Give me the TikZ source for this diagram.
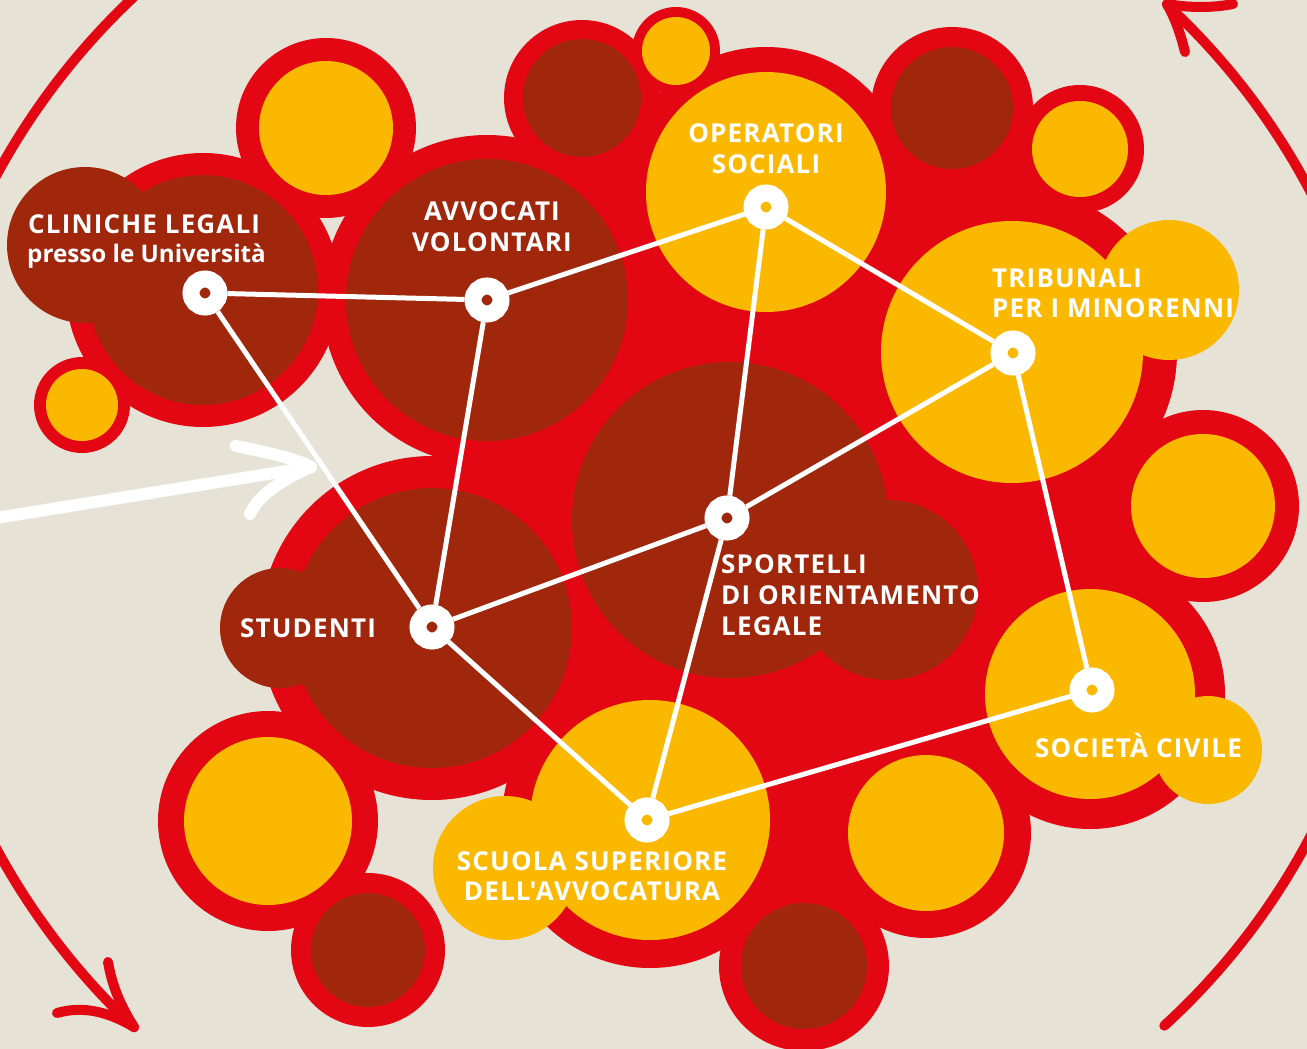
\documentclass[tikz,border=0pt]{standalone}
\usepackage{fontspec}
\newfontfamily\labfont[Ligatures=TeXOff,LetterSpace=4.5]{Open Sans}
\newfontfamily\subfont[Ligatures=TeXOff]{Open Sans}
\definecolor{bgc}{HTML}{E7E2D6}
\definecolor{redc}{HTML}{E30613}
\definecolor{brownc}{HTML}{A0260C}
\definecolor{yelc}{HTML}{FBB800}
\begin{document}
\begin{tikzpicture}[x=1pt,y=-1pt,
  lbl/.style={text=white, font=\labfont\bfseries\fontsize{26}{30}\selectfont, inner sep=0pt},
  sublbl/.style={text=white, font=\subfont\bfseries\fontsize{24.2}{30}\selectfont, inner sep=0pt},
  hub/.style={circle, draw=white, line width=17pt, minimum size=28pt, inner sep=0pt, outer sep=8.5pt},
  conn/.style={white, line width=5pt},
  redarc/.style={redc, line width=10pt, line cap=round},
  whitearrow/.style={white, line width=12pt, line cap=round}]
\useasboundingbox (0,0) rectangle (1307,1049);
\begin{scope}
\clip (0,0) rectangle (1307,1049);
\fill[bgc] (0,0) rectangle (1307,1049);
% red arcs
\draw[redarc] (618,512) ++(205:707) arc[start angle=205, end angle=232, radius=707];
\draw[redarc] (618,512) ++(155:707) arc[start angle=155, end angle=133.2, radius=707];
\draw[redarc] (108,962) .. controls (112,985) and (120,1005) .. (134,1027);
\draw[redarc] (57,1013) .. controls (85,1005) and (110,1013) .. (134,1027);
\draw[redarc] (697,514) ++(-22:693) arc[start angle=-22, end angle=-47.3, radius=693];
\draw[redarc] (1167,4) .. controls (1176,20) and (1181,36) .. (1185,52);
\draw[redarc] (1167,4) .. controls (1190,8) and (1212,8) .. (1233,4);
\draw[redarc] (697,514) ++(22:693) arc[start angle=22, end angle=47.6, radius=693];
% white arrow
\draw[whitearrow] (-10,519) -- (311,467);
\draw[whitearrow] (236,446) .. controls (265,452) and (295,458) .. (311,467);
\draw[whitearrow] (311,467) .. controls (285,478) and (258,495) .. (250,514);
% red blob
\fill[redc] (487,300) -- (582,98) -- (766,192) -- (952,108) -- (1080,149) -- (1012,352)
  -- (1203,506) -- (1090,694) -- (926,833) -- (804,966) -- (650,820) -- (432,628) -- cycle;
\fill[redc] (326,128) circle[radius=90];
\fill[redc] (203,290) circle[radius=137];
\fill[redc] (82,405) circle[radius=48];
\fill[redc] (487,300) circle[radius=165];
\fill[redc] (582,98) circle[radius=78];
\fill[redc] (676,51) circle[radius=44];
\fill[redc] (766,192) circle[radius=145];
\fill[redc] (952,108) circle[radius=81];
\fill[redc] (1080,149) circle[radius=64];
\fill[redc] (1012,352) circle[radius=165];
\fill[redc] (1203,506) circle[radius=96];
\fill[redc] (730,520) circle[radius=185];
\fill[redc] (1090,694) circle[radius=135];
\fill[redc] (926,833) circle[radius=105];
\fill[redc] (804,966) circle[radius=85];
\fill[redc] (650,820) circle[radius=148];
\fill[redc] (432,628) circle[radius=172];
\fill[redc] (268,821) circle[radius=110];
\fill[redc] (368,950) circle[radius=77];
% brown circles
\fill[brownc] (85,245) circle[radius=78];
\fill[brownc] (203,290) circle[radius=115];
\fill[brownc] (487,300) circle[radius=141];
\fill[brownc] (582,98) circle[radius=59];
\fill[brownc] (952,108) circle[radius=61];
\fill[brownc] (730,520) circle[radius=158];
\fill[brownc] (888,590) circle[radius=90];
\fill[brownc] (432,628) circle[radius=140];
\fill[brownc] (280,628) circle[radius=60];
\fill[brownc] (804,966) circle[radius=63];
\fill[brownc] (368,950) circle[radius=57];
% yellow circles
\fill[yelc] (326,128) circle[radius=67];
\fill[yelc] (82,405) circle[radius=36];
\fill[yelc] (676,51) circle[radius=34];
\fill[yelc] (766,192) circle[radius=120];
\fill[yelc] (1080,149) circle[radius=48];
\fill[yelc] (1012,352) circle[radius=131];
\fill[yelc] (1169,290) circle[radius=70];
\fill[yelc] (1203,506) circle[radius=72];
\fill[yelc] (1090,694) circle[radius=105];
\fill[yelc] (1208,750) circle[radius=54];
\fill[yelc] (926,833) circle[radius=78];
\fill[yelc] (650,820) circle[radius=120];
\fill[yelc] (505,868) circle[radius=72];
\fill[yelc] (268,821) circle[radius=84];
\end{scope}
% hubs
\node[hub] (cl) at (205,293) {};
\node[hub] (av) at (487,300) {};
\node[hub] (op) at (766,207) {};
\node[hub] (tr) at (1013,353) {};
\node[hub] (sp) at (727,518) {};
\node[hub] (st) at (432,627) {};
\node[hub] (sc) at (647,820) {};
\node[hub] (so) at (1092,690) {};
% connectors
\draw[conn] (cl) -- (av);
\draw[conn] (cl) -- (st);
\draw[conn] (av) -- (op);
\draw[conn] (av) -- (st);
\draw[conn] (op) -- (tr);
\draw[conn] (op) -- (sp);
\draw[conn] (sp) -- (tr);
\draw[conn] (sp) -- (st);
\draw[conn] (sp) -- (sc);
\draw[conn] (tr) -- (so);
\draw[conn] (st) -- (sc);
\draw[conn] (sc) -- (so);
% labels
\node[lbl, anchor=base west] (t1a) at (28,233) {CLINICHE LEGALI};
\node[sublbl, anchor=base west] (t1b) at (27,262) {presso le Università};
\node[lbl, anchor=base] (t2a) at (492,220) {AVVOCATI};
\node[lbl, anchor=base] (t2b) at (492,251) {VOLONTARI};
\node[lbl, anchor=base] (t3a) at (766,142) {OPERATORI};
\node[lbl, anchor=base] (t3b) at (766,173) {SOCIALI};
\node[lbl, anchor=base west] (t4a) at (992,287) {TRIBUNALI};
\node[lbl, anchor=base west] (t4b) at (992,317) {PER I MINORENNI};
\node[lbl, anchor=base west] (t5a) at (721,573) {SPORTELLI};
\node[lbl, anchor=base west] (t5b) at (721,604) {DI ORIENTAMENTO};
\node[lbl, anchor=base west] (t5c) at (721,635) {LEGALE};
\node[lbl, anchor=base west] (t6) at (240,637) {STUDENTI};
\node[lbl, anchor=base] (t7a) at (592,870) {SCUOLA SUPERIORE};
\node[lbl, anchor=base] (t7b) at (592,900) {DELL'AVVOCATURA};
\node[lbl, anchor=base west] (t8) at (1035,757) {SOCIETÀ CIVILE};
\end{tikzpicture}
\end{document}
